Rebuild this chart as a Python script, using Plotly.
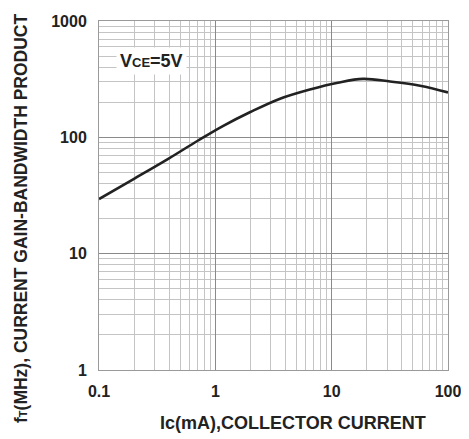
import plotly.graph_objects as go

ic_ma = [0.1, 0.2, 0.4, 0.7, 1.16, 2.0, 3.6, 6.5, 11.3, 18.6, 31.8, 57.5, 100]
ft_mhz = [29.5, 44, 66, 93, 125, 165, 215, 258, 295, 318, 302, 278, 243]

x_ticks = [0.1, 1, 10, 100]
x_labels = ["0.1", "1", "10", "100"]
y_ticks = [1, 10, 100, 1000]
y_labels = ["1", "10", "100", "1000"]

FONT = "Liberation Sans, Arial, sans-serif"

fig = go.Figure()
fig.add_trace(go.Scatter(x=ic_ma, y=ft_mhz, mode="lines",
                         line=dict(color="#222222", width=2.6, shape="spline", smoothing=1.0),
                         showlegend=False, hoverinfo="skip"))

axis_common = dict(
    type="log",
    automargin=False,
    showgrid=True, gridcolor="#8a8a8a", gridwidth=1.2,
    minor=dict(showgrid=True, gridcolor="#c4c4c4", gridwidth=1, dtick="D1", ticks=""),
    showline=True, linecolor="#9a9a9a", linewidth=1, mirror=True,
    zeroline=False, ticks="",
    tickfont=dict(family=FONT, size=16, color="#222222"),
)

fig.update_xaxes(**axis_common, range=[-1, 2], tickmode="array",
                 tickvals=x_ticks, ticktext=[f"<b>{t}</b>" for t in x_labels],
                 ticklabelstandoff=7)
fig.update_yaxes(**axis_common, range=[0, 3], tickmode="array",
                 tickvals=y_ticks, ticktext=[f"<b>{t}</b>" for t in y_labels],
                 ticklabelstandoff=8)

# axis titles (centred as in the reference, not on the plot area)
fig.add_annotation(x=0.556, y=-0.152, xref="paper", yref="paper", xanchor="center", yanchor="middle",
                   text="<b>Ic(mA),COLLECTOR CURRENT</b>", showarrow=False,
                   font=dict(family=FONT, size=18, color="#222222"))
fig.add_annotation(x=-0.224, y=0.435, xref="paper", yref="paper", xanchor="center", yanchor="middle",
                   textangle=-90,
                   text="<b>f<span style='font-size:11px'>T</span>(MHz), CURRENT GAIN-BANDWIDTH PRODUCT</b>",
                   showarrow=False, font=dict(family=FONT, size=17.5, color="#222222"))

fig.add_annotation(x=0.0, y=0.885, xref="paper", yref="paper", xanchor="left", yanchor="middle",
                   text="<b>V<span style='font-size:13px'>CE</span>=5V</b>", showarrow=False,
                   bgcolor="white", borderpad=3, xshift=17,
                   font=dict(family=FONT, size=18, color="#222222"))

# the page body adds an 8px offset; margins compensate so the plot area sits at 99..448 x 21..370
fig.update_layout(width=469, height=439, margin=dict(l=91, r=29, t=13, b=77),
                  paper_bgcolor="white", plot_bgcolor="white")

fig.write_html("out.html")
